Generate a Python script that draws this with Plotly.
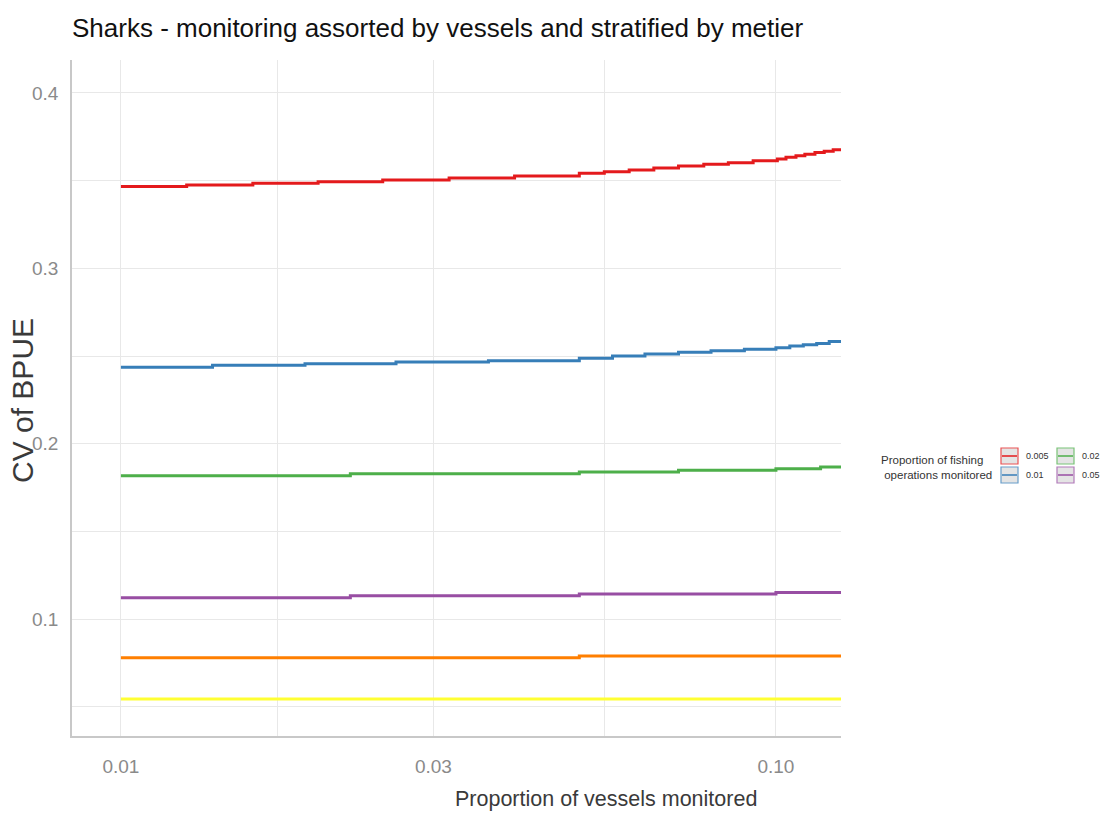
import plotly.graph_objects as go
import numpy as np

# ---- data: CV of BPUE by proportion of vessels monitored (step functions) ----
# each series: x where the value changes, and the value held from that x onwards
effort_levels = ["0.005", "0.01", "0.02", "0.05", "0.1", "0.2"]
colors = ["#E41A1C", "#377EB8", "#4DAF4A", "#984EA3", "#FF7F00", "#FFFF33"]

x_005 = [0.01, 0.0126, 0.0159, 0.0200, 0.0251, 0.0317, 0.0399, 0.0501, 0.0547,
         0.0597, 0.0651, 0.0710, 0.0776, 0.0846, 0.0923, 0.1005, 0.1036, 0.1073,
         0.1107, 0.1147, 0.1185, 0.1223]
cv_005 = [0.3466, 0.3475, 0.3485, 0.3494, 0.3504, 0.3515, 0.3527, 0.3542, 0.3551,
          0.3561, 0.3572, 0.3583, 0.3593, 0.3602, 0.3614, 0.3624, 0.3633, 0.3642,
          0.3651, 0.3660, 0.3668, 0.3676]

x_01 = [0.01, 0.0138, 0.0191, 0.0263, 0.0364, 0.0501, 0.0563, 0.0631, 0.0710,
        0.0796, 0.0895, 0.1000, 0.1050, 0.1101, 0.1154, 0.1206]
cv_01 = [0.2436, 0.2447, 0.2456, 0.2466, 0.2473, 0.2487, 0.2500, 0.2511, 0.2521,
         0.2530, 0.2538, 0.2547, 0.2557, 0.2564, 0.2572, 0.2582]

x_02 = [0.01, 0.0224, 0.0501, 0.0710, 0.1000, 0.1170]
cv_02 = [0.1817, 0.1828, 0.1838, 0.1848, 0.1857, 0.1867]

x_05 = [0.01, 0.0224, 0.0501, 0.1000]
cv_05 = [0.1122, 0.1133, 0.1143, 0.1152]

x_1 = [0.01, 0.0501]
cv_1 = [0.0779, 0.0789]

x_2 = [0.01]
cv_2 = [0.0544]

x_last = 0.13  # last simulated proportion (beyond the visible range)

series_x = [x_005, x_01, x_02, x_05, x_1, x_2]
series_y = [cv_005, cv_01, cv_02, cv_05, cv_1, cv_2]

x_ticks = [0.01, 0.03, 0.10]
x_tick_text = ["0.01", "0.03", "0.10"]
y_ticks = [0.1, 0.2, 0.3, 0.4]

# ---- layout geometry (pixels) ----
W, H = 1102, 814
L, R, T, B = 72, 261, 60, 78
PW, PH = W - L - R, H - T - B

FONT = "Liberation Sans, Arial, sans-serif"


def px_x(px):
    return (px - L) / PW


def px_y(py):
    return (H - B - py) / PH


fig = go.Figure()
for xs, ys, col, name in zip(series_x, series_y, colors, effort_levels):
    fig.add_trace(go.Scatter(
        x=list(xs) + [x_last], y=list(ys) + [ys[-1]],
        mode="lines", line=dict(color=col, width=3, shape="hv"),
        name=name, showlegend=False,
    ))

# major + ggplot-style minor gridlines (midpoints on the log scale)
x_minor = [float(np.sqrt(a * b)) for a, b in zip(x_ticks[:-1], x_ticks[1:])]
x_grid = sorted(x_ticks + x_minor)
x_grid_text = [x_tick_text[x_ticks.index(v)] if v in x_ticks else "" for v in x_grid]
y_minor = [0.05, 0.15, 0.25, 0.35]
y_grid = sorted(y_ticks + y_minor)
y_grid_text = [f"{v:.1f}" if v in y_ticks else "" for v in y_grid]

grid_col = "#e8e8e8"
fig.update_xaxes(
    type="log", range=[np.log10(0.00842), np.log10(0.1257)],
    tickmode="array", tickvals=x_grid, ticktext=x_grid_text,
    showgrid=True, gridcolor=grid_col, gridwidth=1,
    showline=True, linecolor="#c8c8c8", linewidth=1.5,
    zeroline=False, ticks="", ticklabelstandoff=12,
    tickfont=dict(family=FONT, size=19, color="#8a8a8a"),
)
fig.update_yaxes(
    range=[0.0333, 0.4188],
    tickmode="array", tickvals=y_grid, ticktext=y_grid_text,
    showgrid=True, gridcolor=grid_col, gridwidth=1,
    showline=True, linecolor="#c8c8c8", linewidth=1.5,
    zeroline=False, ticks="", ticklabelstandoff=8,
    tickfont=dict(family=FONT, size=19, color="#8a8a8a"),
)

annotations = [
    dict(text="Sharks - monitoring assorted by vessels and stratified by metier",
         x=px_x(70), y=px_y(28), xref="paper", yref="paper",
         xanchor="left", yanchor="middle", showarrow=False,
         font=dict(family=FONT, size=26, color="#111111")),
    dict(text="Proportion of vessels monitored",
         x=px_x(606), y=px_y(799), xref="paper", yref="paper",
         xanchor="center", yanchor="middle", showarrow=False,
         font=dict(family=FONT, size=21.5, color="#3a3a3a")),
    dict(text="CV of BPUE", textangle=-90,
         x=px_x(22), y=px_y(400), xref="paper", yref="paper",
         xanchor="center", yanchor="middle", showarrow=False,
         font=dict(family=FONT, size=30, color="#3a3a3a")),
    dict(text="Proportion of fishing<br> operations monitored",
         x=px_x(879), y=px_y(467), xref="paper", yref="paper",
         xanchor="left", yanchor="middle", align="left", showarrow=False,
         font=dict(family=FONT, size=11.5, color="#333333")),
]

# legend keys in a 2-row grid, filled column by column;
# columns that would start past the page edge are not drawn
shapes = []
key_w, key_h, row_gap, col_gap = 17, 16, 19, 56
key_x0, key_y0 = 1001, 448
for i, (name, col) in enumerate(zip(effort_levels, colors)):
    c, r = divmod(i, 2)
    x0 = key_x0 + c * col_gap
    y0 = key_y0 + r * row_gap
    if x0 + key_w > W:
        continue
    shapes.append(dict(type="rect", xref="paper", yref="paper",
                       x0=px_x(x0), x1=px_x(x0 + key_w),
                       y0=px_y(y0 + key_h), y1=px_y(y0),
                       fillcolor="#dcdcdc", line=dict(color=col, width=1.2),
                       opacity=0.75))
    shapes.append(dict(type="line", xref="paper", yref="paper",
                       x0=px_x(x0 + 1), x1=px_x(x0 + key_w - 1),
                       y0=px_y(y0 + key_h / 2), y1=px_y(y0 + key_h / 2),
                       line=dict(color=col, width=1.5)))
    annotations.append(dict(text=name, x=px_x(x0 + key_w + 6),
                            y=px_y(y0 + key_h / 2), xref="paper", yref="paper",
                            xanchor="left", yanchor="middle", showarrow=False,
                            font=dict(family=FONT, size=9, color="#333333")))

fig.update_layout(
    width=W, height=H,
    margin=dict(l=L, r=R, t=T, b=B, autoexpand=False),
    paper_bgcolor="white", plot_bgcolor="white",
    showlegend=False,
    annotations=annotations, shapes=shapes,
)

fig.write_html("out.html")
